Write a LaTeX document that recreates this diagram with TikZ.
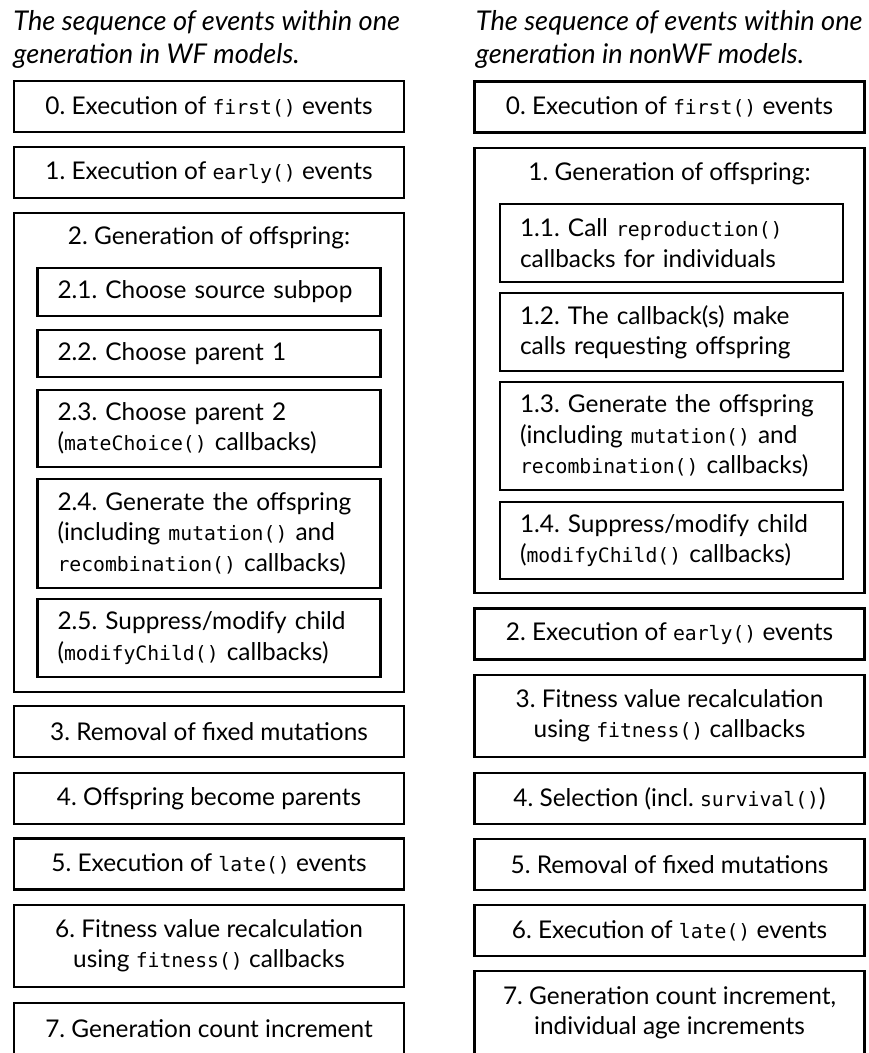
\documentclass[tikz,border=0pt]{standalone}
\usepackage{fontspec}
\setmainfont{Lato}
\setmonofont{DejaVu Sans Mono}[Scale=0.81]
\frenchspacing

\tikzset{
  stepbox/.style={draw, line width=1.1pt, minimum width=195pt, minimum height=25.5pt,
    align=center, inner sep=0pt, font=\fontsize{12.2}{15.2}\selectfont},
  subbox/.style={draw, line width=1.1pt, minimum width=171.5pt, text width=151.5pt,
    align=left, inner xsep=10pt, inner ysep=0pt, font=\fontsize{12.2}{15.2}\selectfont},
  heading/.style={anchor=north west, align=left, inner sep=0pt,
    font=\itshape\fontsize{13.6}{16.5}\selectfont},
  boxtitle/.style={inner sep=0pt, font=\fontsize{12.2}{15.2}\selectfont}
}

\begin{document}
\begin{tikzpicture}[x=0.5pt, y=-0.5pt]

    \useasboundingbox (0,0) rectangle (868,1053);
    \clip (0,0) rectangle (868,1053);

    % Premier volet : modeles WF
    \begin{scope}[shift={(0,0)}]
        \node[heading] (wtitle) at (13,10) {The sequence of events within one\\generation in WF models.};

        \node[stepbox] (w0) at (209,106.5) {0. Execution of \texttt{first()} events};
        \node[stepbox] (w1) at (209,172.5) {1. Execution of \texttt{early()} events};

        % Generation des descendants (boite englobante)
        \node[stepbox, minimum height=239.5pt] (w2) at (209,452.5) {};
        \node[boxtitle] (w2t) at (209,238) {2. Generation of offspring:};
        \node[subbox, minimum height=24pt] (w21) at (209,292) {2.1. Choose source subpop};
        \node[subbox, minimum height=23.5pt] (w22) at (209,353.5) {2.2. Choose parent 1};
        \node[subbox, minimum height=38.5pt] (w23) at (209,428.5) {2.3. Choose parent 2\\(\texttt{mateChoice()} callbacks)};
        \node[subbox, minimum height=54.5pt] (w24) at (209,533.5) {2.4. Generate the offspring\\(including \texttt{mutation()} and\\\texttt{recombination()} callbacks)};
        \node[subbox, minimum height=39pt] (w25) at (209,638) {2.5. Suppress/modify child\\(\texttt{modifyChild()} callbacks)};

        \node[stepbox] (w3) at (209,731.5) {3. Removal of fixed mutations};
        \node[stepbox] (w4) at (209,798.5) {4. Offspring become parents};
        \node[stepbox] (w5) at (209,864) {5. Execution of \texttt{late()} events};
        \node[stepbox, minimum height=41pt] (w6) at (209,946) {6. Fitness value recalculation\\using \texttt{fitness()} callbacks};
        \node[stepbox, minimum height=26pt] (w7) at (209,1029) {7. Generation count increment};
    \end{scope}

    % Second volet : modeles nonWF
    \begin{scope}[shift={(460.5,0)}]
        \node[heading] (ntitle) at (15,10) {The sequence of events within one\\generation in nonWF models.};

        \node[stepbox] (n0) at (209,107) {0. Execution of \texttt{first()} events};

        % Generation des descendants (boite englobante)
        \node[stepbox, minimum height=222.5pt] (n1) at (209,370.5) {};
        \node[boxtitle] (n1t) at (209,174) {1. Generation of offspring:};
        \node[subbox, minimum height=39pt] (n11) at (211,243) {1.1. Call \texttt{reproduction()}\\callbacks for individuals};
        \node[subbox, minimum height=39pt] (n12) at (211,332) {1.2. The callback(s) make\\calls requesting offspring};
        \node[subbox, minimum height=54pt] (n13) at (211,436) {1.3. Generate the offspring\\(including \texttt{mutation()} and\\\texttt{recombination()} callbacks)};
        \node[subbox, minimum height=38.5pt] (n14) at (211,540.5) {1.4. Suppress/modify child\\(\texttt{modifyChild()} callbacks)};

        \node[stepbox] (n2) at (209,634) {2. Execution of \texttt{early()} events};
        \node[stepbox, minimum height=41pt] (n3) at (209,716) {3. Fitness value recalculation\\using \texttt{fitness()} callbacks};
        \node[stepbox] (n4) at (209,798.5) {4. Selection (incl. \texttt{survival()})};
        \node[stepbox] (n5) at (209,864.5) {5. Removal of fixed mutations};
        \node[stepbox] (n6) at (209,930.5) {6. Execution of \texttt{late()} events};
        \node[stepbox, minimum height=42pt] (n7) at (209,1013) {7. Generation count increment,\\individual age increments};
    \end{scope}

\end{tikzpicture}
\end{document}
